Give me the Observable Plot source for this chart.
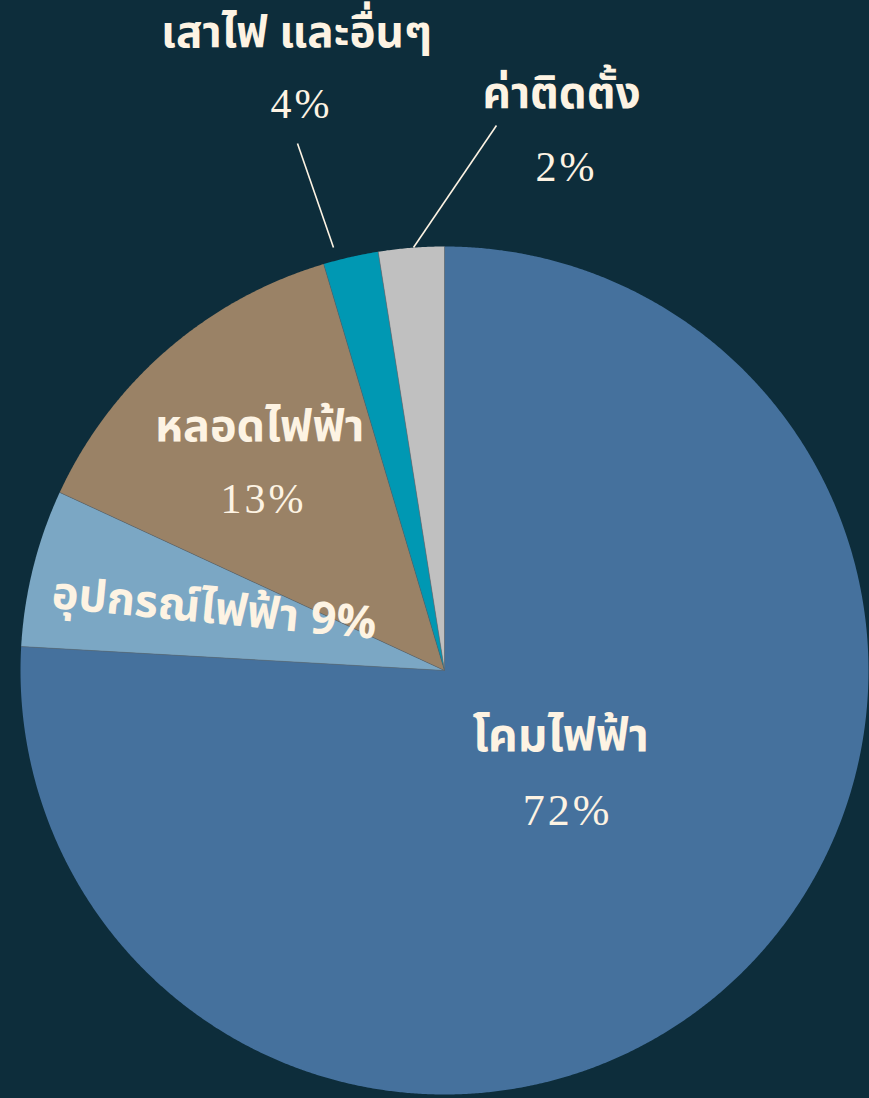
<!DOCTYPE html>
<html>
<head>
<meta charset="utf-8">
<script src="https://cdn.jsdelivr.net/npm/d3@7"></script>
<script src="https://cdn.jsdelivr.net/npm/@observablehq/plot@0.6"></script>
<style>
  html, body { margin: 0; padding: 0; background: #0d2d3b; }
  .thai { font-family: "Noto Sans Thai", "Noto Sans Thai Looped", "Kanit", "Prompt", "Sarabun", "Loma", "Garuda", "Noto Sans", sans-serif; font-weight: 700; }
  .pct { font-family: "Liberation Serif", "DejaVu Serif", serif; letter-spacing: 3px; }
</style>
</head>
<body>
<div id="chart"></div>
<script>
// ---- data ----
const categories = ["โคมไฟฟ้า", "อุปกรณ์ไฟฟ้า", "หลอดไฟฟ้า", "เสาไฟ และอื่นๆ", "ค่าติดตั้ง"];
const shares = [75.9, 6.0, 13.5, 2.1, 2.5];          // slice sizes as drawn
const pctLabels = ["72%", "9%", "13%", "4%", "2%"];    // printed labels
const colors = ["#45719d", "#7ba7c4", "#9a8266", "#0098b3", "#c0c0c0"];

// ---- layout (data units: radius = 1) ----
const W = 869, H = 1098, CX = 444, CY = 670, R = 424;
const xDomain = [-CX / R, (W - CX) / R];
const yDomain = [-(H - CY) / R, CY / R];
const TXT = "#fdf3e3";

const pie = d3.pie().sort(null).value(d => d.share).startAngle(0).endAngle(2 * Math.PI);
const rows = categories.map((c, i) => ({name: c, share: shares[i], pct: pctLabels[i], color: colors[i]}));
const arcs = pie(rows);
const polar = (a, r) => ({x: r * Math.sin(a), y: r * Math.cos(a)});

const slices = arcs.map(a => {
  const pts = [{x: 0, y: 0}];
  const n = Math.max(2, Math.ceil((a.endAngle - a.startAngle) / (Math.PI / 720)));
  for (let k = 0; k <= n; k++) pts.push(polar(a.startAngle + (a.endAngle - a.startAngle) * k / n, 1));
  pts.push({x: 0, y: 0});
  return {name: a.data.name, color: a.data.color, pts};
});
const edges = arcs.map(a => ({x1: 0, y1: 0, ...(p => ({x2: p.x, y2: p.y}))(polar(a.startAngle, 1))}));

// label placements
const nameLab = [
  {i: 0, x: 0.274, y: -0.155, s: 46},
  {i: 2, x: -0.436, y: 0.576, s: 45},
  {i: 3, x: -0.349, y: 1.503, s: 44},
  {i: 4, x: 0.276, y: 1.359, s: 44}
];
const pctLab = [
  {i: 0, x: 0.290, y: -0.332, s: 44},
  {i: 2, x: -0.427, y: 0.404, s: 42},
  {i: 3, x: -0.337, y: 1.334, s: 42},
  {i: 4, x: 0.288, y: 1.187, s: 42}
];
const inlineLab = [{i: 1, x: -0.543, y: 0.145}];
const leaders = [
  {x1: -0.3467, y1: 1.2429, x2: -0.2618, y2: 0.9976},
  {x1: 0.1226, y1: 1.2854, x2: -0.0731, y2: 0.9976}
];

const chart = Plot.plot({
  width: W, height: H, margin: 0,
  x: {domain: xDomain, axis: null},
  y: {domain: yDomain, axis: null},
  style: {background: "#0d2d3b", overflow: "hidden"},
  marks: [
    ...slices.map(s => Plot.line(s.pts, {x: "x", y: "y", fill: s.color, stroke: "none", curve: "linear"})),
    Plot.link(edges, {x1: "x1", y1: "y1", x2: "x2", y2: "y2", stroke: "#5e6670", strokeWidth: 0.8, strokeOpacity: 0.7}),
    Plot.link(leaders, {x1: "x1", y1: "y1", x2: "x2", y2: "y2", stroke: TXT, strokeWidth: 1.6}),
    ...nameLab.map(d => Plot.text([d], {x: "x", y: "y", text: d => categories[d.i], fill: TXT, fontSize: d.s, className: "thai", textAnchor: "middle"})),
    ...pctLab.map(d => Plot.text([d], {x: "x", y: "y", text: d => pctLabels[d.i], fill: TXT, fontSize: d.s, className: "pct", textAnchor: "middle"})),
    Plot.text(inlineLab, {x: "x", y: "y", text: d => categories[d.i] + " " + pctLabels[d.i], fill: TXT, fontSize: 45, rotate: 5.5, className: "thai", textAnchor: "middle"})
  ]
});
document.getElementById("chart").appendChild(chart);
</script>
</body>
</html>
